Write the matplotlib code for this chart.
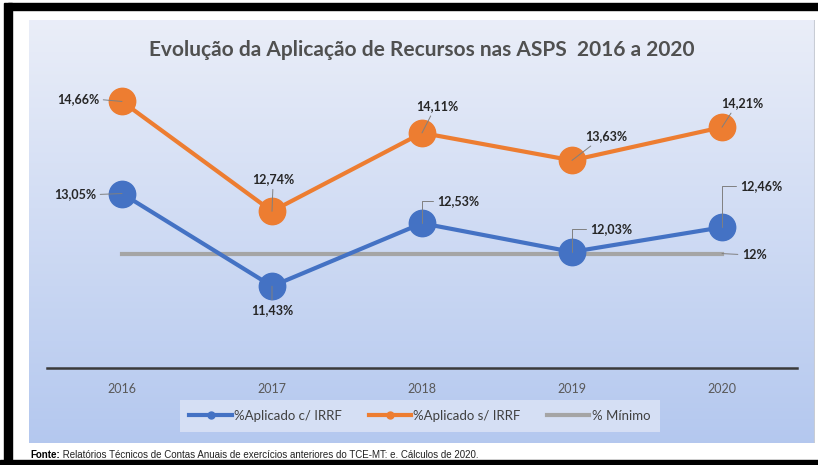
import numpy as np
import matplotlib.pyplot as plt
from matplotlib.patches import Rectangle
from matplotlib.lines import Line2D

plt.rcParams['font.family'] = ['Lato', 'DejaVu Sans']

# Dados
anos = ["2016", "2017", "2018", "2019", "2020"]
com_irrf = [13.05, 11.43, 12.53, 12.03, 12.46]
sem_irrf = [14.66, 12.74, 14.11, 13.63, 14.21]
minimo = [12, 12, 12, 12, 12]
rot_com = ["13,05%", "11,43%", "12,53%", "12,03%", "12,46%"]
rot_sem = ["14,66%", "12,74%", "14,11%", "13,63%", "14,21%"]

AZUL = "#4472C4"
LARANJA = "#ED7D31"
CINZA = "#A5A5A5"
W, H = 818, 465

fig = plt.figure(figsize=(W / 100, H / 100), dpi=100, facecolor="white")

def fx(px):
    return px / W

def fy(py):
    return 1 - py / H

# moldura preta da captura
for x0, y0, x1, y1 in [(4, 3, 12, 462), (8, 3, 818, 10), (0, 460, 818, 465)]:
    fig.patches.append(Rectangle((fx(x0), fy(y1)), fx(x1) - fx(x0), fy(y0) - fy(y1),
                                 transform=fig.transFigure, color="black", zorder=0))

# fundo com degradê
bg = fig.add_axes([fx(29), fy(443), fx(815) - fx(29), fy(20) - fy(443)])
grad = np.linspace(0, 1, 256).reshape(-1, 1)
top = np.array([0.918, 0.933, 0.973])
bot = np.array([0.706, 0.784, 0.937])
img = top + (bot - top) * grad[:, :, None]
bg.imshow(img, aspect="auto", extent=[0, 1, 0, 1])
bg.set_axis_off()
bg.add_line(Line2D([1, 1], [0, 1], color="#c8ccd4", lw=1.5))

ax = fig.add_axes([fx(47), fy(368), fx(797) - fx(47), fy(82) - fy(368)])
ax.set_facecolor("none")
x = np.arange(len(anos))

ax.plot(x, minimo, color=CINZA, lw=3, zorder=2)
ax.plot(x, com_irrf, color=AZUL, lw=3, marker="o", ms=19, zorder=3)
ax.plot(x, sem_irrf, color=LARANJA, lw=3, marker="o", ms=19, zorder=3)

ax.set_xlim(-0.5, 4.5)
ax.set_ylim(10, 15)
ax.set_xticks(x)
ax.set_xticklabels(anos, fontsize=9, color="#595959")
ax.tick_params(axis="x", length=0, pad=11)
ax.set_yticks([])
for s in ["top", "left", "right"]:
    ax.spines[s].set_visible(False)
ax.spines["bottom"].set_color("#3a3a3a")
ax.spines["bottom"].set_linewidth(1.8)

def rotulo(texto, xi, yi, dx, dy, relpos, conn="arc3"):
    ax.annotate(texto, xy=(xi, yi), xytext=(dx, -dy), textcoords="offset pixels",
                ha="left" if relpos[0] == 0 else "center", va="center",
                fontsize=9, fontweight="bold", color="#262626", zorder=5,
                arrowprops=dict(arrowstyle="-", color="#808080", lw=0.7,
                                shrinkA=1, shrinkB=0, relpos=relpos,
                                connectionstyle=conn))

# rótulos laranja (deslocamentos em pixels)
rotulo(rot_sem[0], 0, sem_irrf[0], -44, -2, (1, 0.5))
rotulo(rot_sem[1], 1, sem_irrf[1], 1, -32, (0.5, 0))
rotulo(rot_sem[2], 2, sem_irrf[2], 15, -27, (0.4, 0))
rotulo(rot_sem[3], 3, sem_irrf[3], 34, -24, (0.25, 0))
rotulo(rot_sem[4], 4, sem_irrf[4], 20, -24, (0.3, 0))
# rótulos azul
ang = "angle,angleA=0,angleB=90,rad=0"
rotulo(rot_com[0], 0, com_irrf[0], -47, 1, (1, 0.5))
rotulo(rot_com[1], 1, com_irrf[1], 0, 24, (0.5, 1))
rotulo(rot_com[2], 2, com_irrf[2], 15, -22, (0, 0.5), ang)
rotulo(rot_com[3], 3, com_irrf[3], 18, -23, (0, 0.5), ang)
rotulo(rot_com[4], 4, com_irrf[4], 18, -41, (0, 0.5), ang)
rotulo("12%", 4, minimo[4], 20, 1, (0, 0.5))

fig.text(fx(422), fy(50), "Evolução da Aplicação de Recursos nas ASPS  2016 a 2020",
         ha="center", va="center", fontsize=15, fontweight="bold", color="#505050")

handles = [Line2D([], [], color=AZUL, lw=3, marker="o", ms=5),
           Line2D([], [], color=LARANJA, lw=3, marker="o", ms=5),
           Line2D([], [], color=CINZA, lw=3)]
leg = fig.legend(handles, ["%Aplicado c/ IRRF", "%Aplicado s/ IRRF", "% Mínimo"],
                 loc="center", bbox_to_anchor=(fx(420), fy(416)), ncol=3,
                 fontsize=9.5, frameon=True, fancybox=False, handlelength=3.2,
                 columnspacing=2.0, handletextpad=0.2, borderpad=0.75,
                 borderaxespad=0)
leg.get_frame().set_facecolor("#dbe3f5")
leg.get_frame().set_edgecolor("none")
leg.get_frame().set_alpha(0.85)
for t in leg.get_texts():
    t.set_color("#404040")

t1 = fig.text(fx(30), fy(455), "Fonte:", fontsize=7, fontweight="bold",
              family="Liberation Sans", va="center")
ax.annotate(" Relatórios Técnicos de Contas Anuais de exercícios anteriores do TCE-MT: e. Cálculos de 2020.",
            xy=(1, 0.5), xycoords=t1, va="center", fontsize=7,
            family="Liberation Sans", color="#222222", annotation_clip=False)

fig.savefig("out.png", dpi=100, facecolor="white")
